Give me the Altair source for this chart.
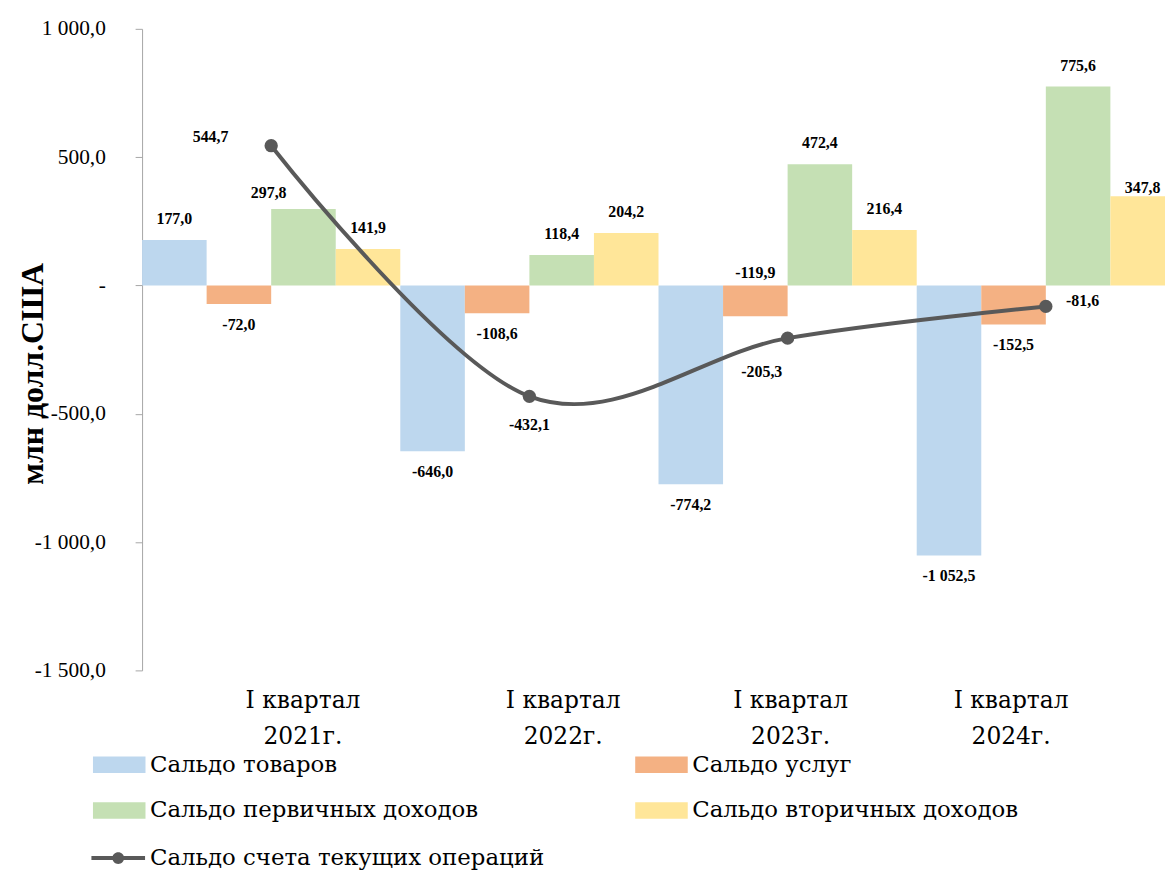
import altair as alt
import pandas as pd

# ---------------- data ----------------
categories = ["I квартал 2021г.", "I квартал 2022г.", "I квартал 2023г.", "I квартал 2024г."]
series_names = ["Сальдо товаров", "Сальдо услуг", "Сальдо первичных доходов", "Сальдо вторичных доходов"]
goods = [177.0, -646.0, -774.2, -1052.5]
services = [-72.0, -108.6, -119.9, -152.5]
primary_income = [297.8, 118.4, 472.4, 775.6]
secondary_income = [141.9, 204.2, 216.4, 347.8]
line_name = "Сальдо счета текущих операций"
current_account = [544.7, -432.1, -205.3, -81.6]
y_ticks = [-1500, -1000, -500, 0, 500, 1000]

bar_colors = ["#BDD7EE", "#F4B183", "#C5E0B4", "#FFE699"]
line_color = "#595959"

rows = []
for s, vals in zip(series_names, [goods, services, primary_income, secondary_income]):
    for c, v in zip(categories, vals):
        rows.append({"category": c, "series": s, "value": v})
bars_df = pd.DataFrame(rows)
line_df = pd.DataFrame({"category": categories, "value": current_account, "name": line_name})

SERIF = "DejaVu Serif"
NUMF = "Liberation Serif"

# ---------------- encodings ----------------
x_enc = alt.X(
    "category:N",
    sort=categories,
    scale=alt.Scale(domain=categories, range=[0, 1040], paddingInner=0, paddingOuter=0),
    axis=alt.Axis(
        title=None,
        domain=False,
        ticks=False,
        labelAngle=0,
        labelFont=SERIF,
        labelFontSize=23.5,
        labelColor="black",
        labelPadding=18,
        labelLineHeight=37,
        labelBaseline="top",
        labelExpr="[slice(datum.value, 0, 9), slice(datum.value, 10)]",
        labelOffset={
            "condition": [
                {"test": "datum.value === '%s'" % categories[0], "value": 32},
                {"test": "datum.value === '%s'" % categories[1], "value": 34},
                {"test": "datum.value === '%s'" % categories[2], "value": 3},
                {"test": "datum.value === '%s'" % categories[3], "value": -35},
            ],
            "value": 0,
        },
    ),
)
xo_enc = alt.XOffset(
    "series:N", sort=series_names,
    scale=alt.Scale(domain=series_names, paddingInner=0, paddingOuter=0),
)
y_enc = alt.Y(
    "value:Q",
    scale=alt.Scale(domain=[-1500, 1000], nice=False),
    axis=alt.Axis(
        values=y_ticks,
        format=",.1f",
        labelExpr="datum.value == 0 ? '-' : datum.label",
        grid=False,
        domainColor="#A6A6A6",
        tickColor="#A6A6A6",
        tickSize=7,
        labelPadding=30,
        labelFont=NUMF,
        labelFontSize=21.5,
        labelColor="black",
        title="млн долл.США",
        titleFont=NUMF,
        titleFontSize=32,
        titleFontWeight="bold",
        titleColor="black",
        titleAngle=270,
        titleAlign="center",
        titleBaseline="middle",
        titleX=-110,
        titleY=347,
    ),
)

rect_path = "M-1.15,-0.36 H1.15 V0.36 H-1.15 Z"
color_enc = alt.Color(
    "series:N",
    sort=series_names,
    scale=alt.Scale(domain=series_names, range=bar_colors),
    legend=alt.Legend(
        title=None,
        orient="none",
        direction="horizontal",
        legendX=-46,
        legendY=718,
        columns=2,
        columnPadding=157,
        rowPadding=11,
        padding=0,
        symbolType=rect_path,
        symbolSize=2116,
        symbolStrokeWidth=0,
        symbolOpacity=1,
        labelFont=SERIF,
        labelFontSize=23,
        labelColor="black",
        labelOffset=8,
        labelLimit=800,
    ),
)

line_sym = ("M-1,-0.075 H1 V0.075 H-1 Z "
            "M0.22,0 A0.22,0.22 0 1,1 -0.22,0 A0.22,0.22 0 1,1 0.22,0 Z")
stroke_enc = alt.Stroke(
    "name:N",
    scale=alt.Scale(domain=[line_name], range=[line_color]),
    legend=alt.Legend(
        title=None,
        orient="none",
        legendX=-51,
        legendY=808,
        padding=0,
        symbolType=line_sym,
        symbolSize=2916,
        symbolFillColor=line_color,
        symbolStrokeColor=line_color,
        symbolStrokeWidth=0,
        symbolOpacity=1,
        labelFont=SERIF,
        labelFontSize=23,
        labelColor="black",
        labelOffset=5,
        labelLimit=800,
    ),
)

# ---------------- layers ----------------
base_bars = alt.Chart(bars_df)
bars = base_bars.mark_bar().encode(x=x_enc, xOffset=xo_enc, y=y_enc, color=color_enc)

text_style = dict(font=NUMF, fontSize=16, fontWeight="bold", color="black", baseline="middle", align="center")
txt = alt.Text("value:Q", format=",.1f")

exceptions = [
    (series_names[2], categories[0], -35, -16),
    (series_names[3], categories[3], 0, -8),
    (series_names[1], categories[2], 0, -43),
]
exc_tests = ["(datum.series === '%s' && datum.category === '%s')" % (s, c) for s, c, _, _ in exceptions]
not_exc = "!(" + " || ".join(exc_tests) + ")"

lab_pos = base_bars.mark_text(dy=-21, **text_style).encode(
    x=x_enc, xOffset=xo_enc, y=y_enc, text=txt
).transform_filter("datum.value > 0 && " + not_exc)
lab_neg = base_bars.mark_text(dy=21, **text_style).encode(
    x=x_enc, xOffset=xo_enc, y=y_enc, text=txt
).transform_filter("datum.value < 0 && " + not_exc)
exc_layers = []
for (s, c, dx, dy), t in zip(exceptions, exc_tests):
    exc_layers.append(
        base_bars.mark_text(dx=dx, dy=dy, **text_style).encode(
            x=x_enc, xOffset=xo_enc, y=y_enc, text=txt
        ).transform_filter(t)
    )

base_line = alt.Chart(line_df)
line = base_line.mark_line(interpolate="cardinal", strokeWidth=4).encode(
    x=x_enc, y=y_enc, stroke=stroke_enc
)
points = base_line.mark_point(filled=True, size=180, color=line_color, opacity=1).encode(
    x=x_enc, y=y_enc
)
line_offsets = [(-61, -9), (0, 29), (-26, 34), (37, -5)]
line_labels = []
for c, (dx, dy) in zip(categories, line_offsets):
    line_labels.append(
        base_line.mark_text(dx=dx, dy=dy, **text_style).encode(
            x=x_enc, y=y_enc, text=txt
        ).transform_filter("datum.category === '%s'" % c)
    )

chart = alt.layer(
    bars, lab_pos, lab_neg, *exc_layers, line, points, *line_labels
).properties(
    width=1030,
    height=646,
    autosize=alt.AutoSizeParams(type="none"),
    padding={"left": 135, "top": 18, "right": 0, "bottom": 199},
    background="white",
).configure_view(stroke=None)

chart.save(
    "out.html",
    embed_options={
        "renderer": "svg",
        "actions": False,
        "formatLocale": {
            "decimal": ",",
            "thousands": "\u00a0",
            "grouping": [3],
            "currency": ["", ""],
            "minus": "-",
        },
    },
)
